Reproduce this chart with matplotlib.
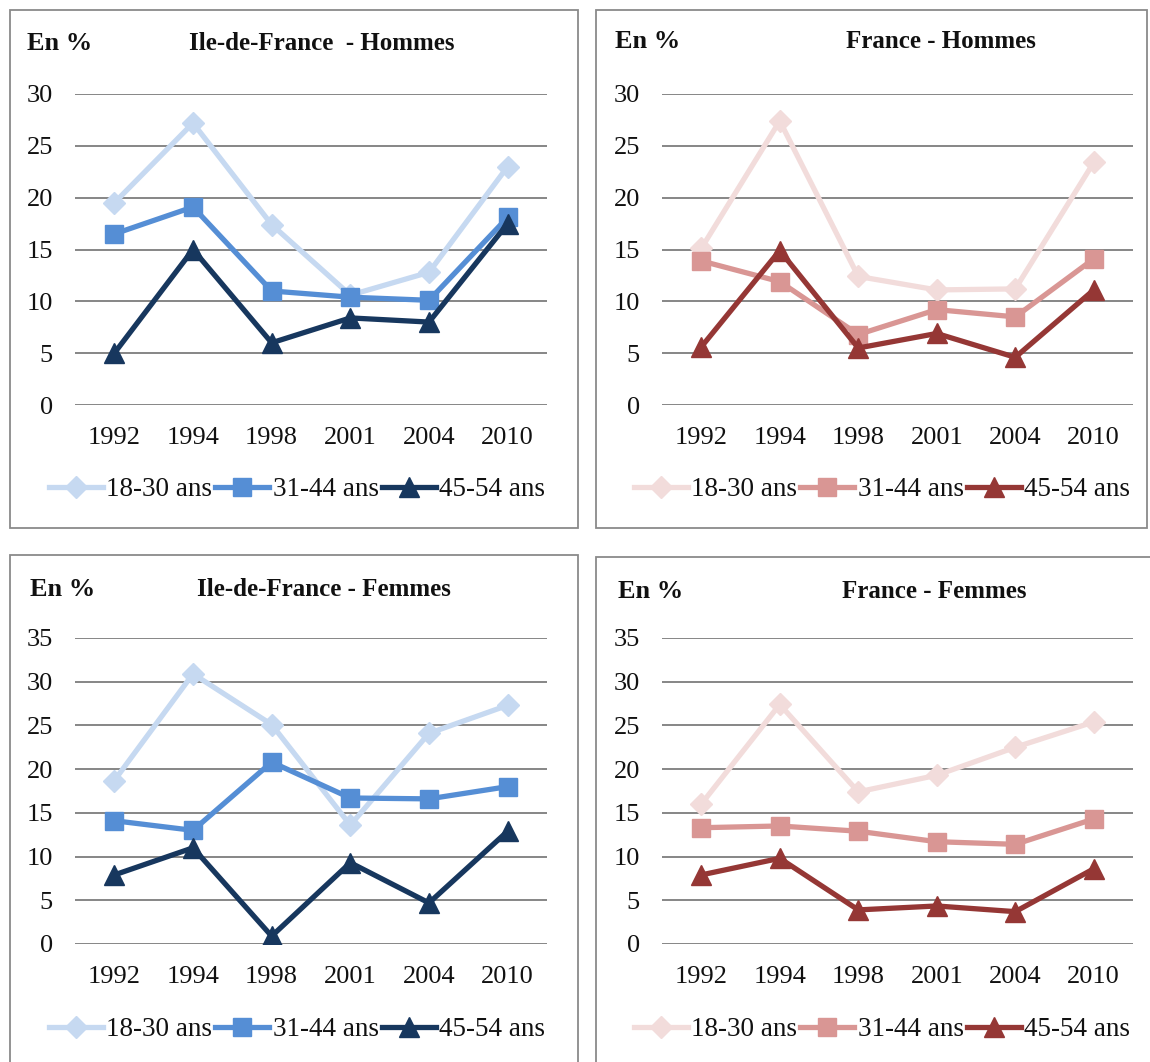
import matplotlib
matplotlib.use('Agg')
from matplotlib import pyplot as plt
from matplotlib.patches import Rectangle

plt.rcParams['font.family'] = ['Liberation Serif', 'DejaVu Serif']

years = ["1992", "1994", "1998", "2001", "2004", "2010"]
groups = ["18-30 ans", "31-44 ans", "45-54 ans"]

# Ile-de-France - Hommes
idf_h_18_30 = [19.5, 27.2, 17.4, 10.6, 12.8, 23.0]
idf_h_31_44 = [16.5, 19.1, 11.0, 10.4, 10.1, 18.1]
idf_h_45_54 = [5.0, 15.0, 6.0, 8.4, 8.0, 17.5]

# France - Hommes
fr_h_18_30 = [15.1, 27.4, 12.4, 11.1, 11.2, 23.4]
fr_h_31_44 = [13.9, 11.9, 6.8, 9.2, 8.5, 14.1]
fr_h_45_54 = [5.6, 14.9, 5.5, 6.9, 4.6, 11.1]

# Ile-de-France - Femmes
idf_f_18_30 = [18.7, 30.9, 25.1, 13.6, 24.1, 27.3]
idf_f_31_44 = [14.1, 13.0, 20.8, 16.7, 16.6, 18.0]
idf_f_45_54 = [7.9, 11.0, 0.9, 9.3, 4.7, 12.9]

# France - Femmes
fr_f_18_30 = [16.0, 27.4, 17.4, 19.3, 22.5, 25.4]
fr_f_31_44 = [13.3, 13.5, 12.9, 11.7, 11.4, 14.3]
fr_f_45_54 = [7.9, 9.8, 3.9, 4.35, 3.7, 8.6]

blues = ["#C6D9F1", "#558ED5", "#17375E"]
reds = ["#F2DCDB", "#D99694", "#953735"]
markers = ["D", "s", "^"]
msizes = [11, 13.5, 14]

W, H = 1150, 1062
fig = plt.figure(figsize=(W / 100, H / 100), dpi=100)


def fx(px):
    return px / W


def fy(py):
    return 1 - py / H


def panel(box, ax_px, series, colors, title, title_x, title_y, en_x, ymax, leg_x, leg_y):
    # panel frame
    x0, y0, x1, y1 = box
    fig.add_artist(Rectangle((fx(x0), fy(y1)), fx(x1) - fx(x0), fy(y0) - fy(y1),
                             transform=fig.transFigure, fill=False,
                             edgecolor="#8a8a8a", linewidth=1.3))
    l, t, r, b = ax_px
    ax = fig.add_axes([fx(l), fy(b), fx(r) - fx(l), fy(t) - fy(b)])
    xs = list(range(len(years)))
    for i, vals in enumerate(series):
        ax.plot(xs, vals, color=colors[i], marker=markers[i], markersize=msizes[i],
                markeredgecolor=colors[i], linewidth=3.8, label=groups[i], zorder=3 + i)
    ax.set_xlim(-0.5, len(years) - 0.5)
    ax.set_ylim(0, ymax)
    ax.set_yticks(range(0, ymax + 1, 5))
    ax.set_xticks(xs)
    ax.set_xticklabels(years)
    ax.tick_params(axis='both', length=0, labelsize=19, colors="#111111")
    ax.tick_params(axis='x', pad=16)
    ax.tick_params(axis='y', pad=16)
    ax.grid(True, axis='y', color="#868686", linewidth=1.4)
    ax.set_axisbelow(True)
    for s in ax.spines.values():
        s.set_visible(False)
    fig.text(fx(en_x), fy(title_y), "En %", fontsize=19, fontweight='bold',
             ha='left', va='center', color="#111111")
    fig.text(fx(title_x), fy(title_y), title, fontsize=18, fontweight='bold',
             ha='center', va='center', color="#111111")
    fig.legend(*ax.get_legend_handles_labels(), loc='center',
               bbox_to_anchor=(fx(leg_x), fy(leg_y)), ncol=3, frameon=False,
               fontsize=19.5, handlelength=2.0, handletextpad=0.12, columnspacing=0.12,
               borderaxespad=0, labelcolor="#111111")
    return ax


panel((10, 10, 578, 528), (75, 94, 547, 405),
      [idf_h_18_30, idf_h_31_44, idf_h_45_54], blues,
      "Ile-de-France  - Hommes", 322, 44, 27, 30, 297, 490)
panel((596, 10, 1147, 528), (662, 94, 1133, 405),
      [fr_h_18_30, fr_h_31_44, fr_h_45_54], reds,
      "France - Hommes", 941, 42, 615, 30, 882, 490)
panel((10, 555, 578, 1075), (75, 638, 547, 944),
      [idf_f_18_30, idf_f_31_44, idf_f_45_54], blues,
      "Ile-de-France - Femmes", 324, 589, 30, 35, 297, 1030)
panel((596, 557, 1160, 1075), (662, 638, 1133, 944),
      [fr_f_18_30, fr_f_31_44, fr_f_45_54], reds,
      "France - Femmes", 934, 592, 618, 35, 882, 1030)

fig.savefig("out.png", dpi=100, facecolor="white")
